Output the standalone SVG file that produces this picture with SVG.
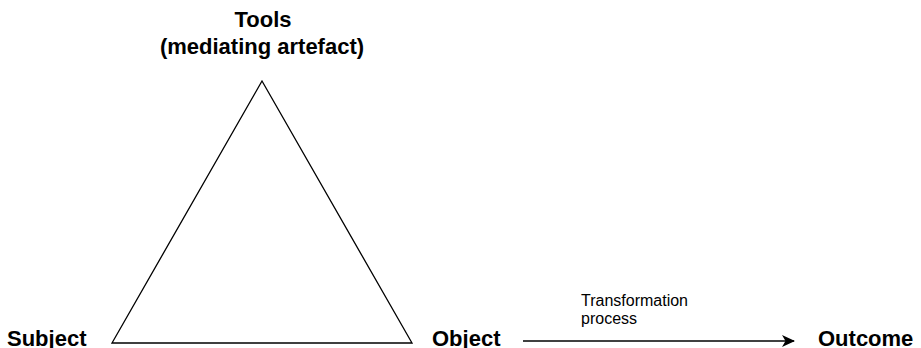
<svg xmlns="http://www.w3.org/2000/svg" width="921" height="348" viewBox="0 0 921 348">
<style>
.b{font-family:"Liberation Sans",Arial,sans-serif;font-weight:bold;font-size:22px;fill:#000}
.s{font-family:"Liberation Sans",Arial,sans-serif;font-size:16px;fill:#000}
.ln{stroke:#000;stroke-width:1.3;fill:none}
</style>
<defs>
<marker id="ah" markerWidth="14" markerHeight="12" refX="12" refY="6" orient="auto" markerUnits="userSpaceOnUse">
<path d="M0,0 L13,6 L0,12 L3.5,6 Z" fill="#000"/>
</marker>
</defs>
<g id="triangle"><path class="ln" d="M262,81 L412,343 L112,343 Z" fill="#fdfdfd"/></g>
<g id="tools"><text class="b" x="263" y="27" text-anchor="middle">Tools</text><text class="b" x="262" y="54" text-anchor="middle">(mediating artefact)</text></g>
<g id="subject"><text class="b" x="7" y="346">Subject</text></g>
<g id="object"><text class="b" x="432" y="346">Object</text></g>
<g id="outcome"><text class="b" x="818" y="346">Outcome</text></g>
<g id="connectors">
<line class="ln" x1="523" y1="341" x2="794" y2="341" marker-end="url(#ah)"/>
<text class="s" x="581" y="306">Transformation</text>
<text class="s" x="581" y="324">process</text>
</g>
</svg>
